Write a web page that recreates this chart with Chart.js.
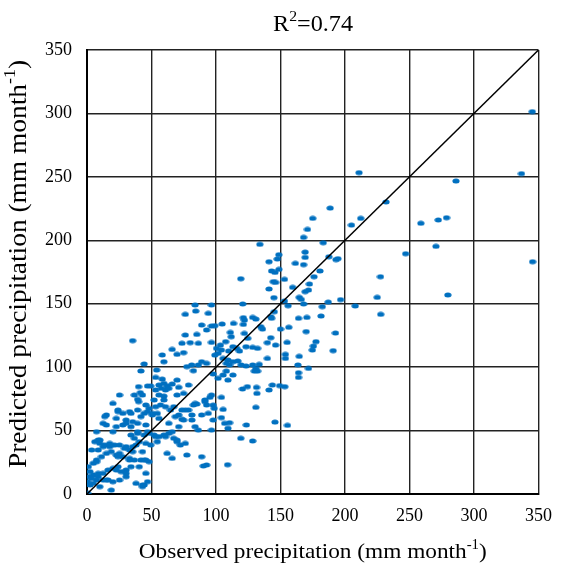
<!DOCTYPE html>
<html><head><meta charset="utf-8">
<script src="https://cdn.jsdelivr.net/npm/chart.js@4.4.1/dist/chart.umd.min.js"></script>
<style>html,body{margin:0;padding:0;background:#fff}</style>
</head><body>
<canvas id="c" width="563" height="570"></canvas>
<script>
// Observed (x) and predicted (y) monthly precipitation, mm month-1
const observed = [
40.0,46.9,49.4,55.8,59.6,62.1,66.0,71.1,78.7,57.6,60.9,63.4,41.3,43.0,53.2,55.8,59.6,69.8,74.9,25.2,36.7,39.2,40.0,85.1,82.5,91.4,92.7,96.5,95.3,78.7,76.2,81.3,71.1,68.5,73.6,83.8,97.8,96.5,86.3,45.6,48.1,53.2,57.0,60.9,64.7,54.5,50.7,46.9,44.3,41.8,32.9,27.8,24.1,15.0,13.8,22.7,30.3,35.4,39.2,34.1,27.8,22.7,20.1,12.5,15.0,7.4,6.1,8.7,9.9,13.8,17.6,21.4,25.2,29.0,32.9,35.4,38.0,40.5,36.7,39.2,44.3,48.1,52.0,55.8,59.6,63.4,67.2,69.8,72.3,54.5,45.6,43.0,49.4,41.8,45.6,48.1,36.7,32.9,27.8,22.7,18.8,15.0,11.2,7.4,4.8,3.6,8.7,1.0,2.3,4.8,8.7,12.5,16.3,20.1,24.0,26.5,30.3,34.1,30.3,25.2,20.1,16.3,12.5,7.4,3.6,1.0,0.5,2.3,9.9,18.8,43.0,44.3,46.9,62.1,66.0,77.4,90.2,92.7,0.5,
20.1,24.0,52.0,59.6,67.2,73.6,83.8,91.4,97.8,69.8,76.2,60.9,88.9,7.4,12.5,10.0,17.6,30.3,24.0,32.9,40.5,44.3,45.6,30.3,38.0,43.0,8.7,4.8,15.0,22.7,25.2,35.4,34.1,39.2,45.6,30.3,34.1,39.2,50.7,55.8,63.4,46.9,53.2,66.0,71.1,74.9,81.3,88.9,94.0,
83.8,96.5,76.2,84.3,94.0,88.9,96.5,92.7,76.2,85.1,73.6,80.0,66.0,69.8,74.9,86.3,96.5,58.3,59.6,88.9,92.7,86.3,82.5,77.4,81.2,97.8,35.4,44.3,41.8,54.0,58.3,69.8,53.2,
143.1,145.7,148.8,180.6,176.0,172.4,171.7,169.1,159.4,153.1,144.4,146.2,141.1,119.2,144.9,164.5,166.1,153.1,155.9,167.9,182.4,120.7,145.2,142.4,143.1,121.2,122.0,128.4,130.9,121.2,113.6,104.7,99.1,134.7,136.0,150.0,156.4,164.0,170.4,181.4,169.9,192.6,111.1,111.8,122.0,124.6,142.4,139.8,146.2,155.1,177.5,175.5,174.7,190.8,103.4,107.5,100.4,104.2,109.8,113.1,116.1,118.2,123.3,128.4,132.2,139.8,153.8,153.8,164.5,101.6,99.1,105.5,109.3,113.1,116.9,119.5,110.5,108.0,123.3,128.4,130.9,133.5,129.7,132.2,108.0,105.5,113.1,109.3,101.6,163.5,171.7,164.0,164.0,
124.3,120.5,131.4,131.7,143.7,149.3,153.3,141.1,104.2,130.9,105.5,98.6,104.2,106.7,110.5,109.3,123.5,145.7,155.4,119.2,128.4,109.0,
175.0,170.9,167.9,183.1,134.0,169.1,148.7,169.1,147.5,141.1,161.5,167.9,
345.2,210.9,336.8,286.0,188.5,231.8,212.2,205.0,278.7,272.3,258.8,270.5,247.0,187.5,193.0,194.5,345.4,227.5,225.0,279.7,196.6,187.0,207.9,227.7
];
const predicted = [
84.6,85.1,85.1,85.9,87.2,85.1,86.7,84.1,85.9,83.3,82.0,83.3,79.9,78.0,82.0,78.0,77.2,78.0,79.3,78.0,78.0,74.6,72.8,70.9,70.2,72.8,70.2,78.0,76.2,66.2,66.2,62.3,62.3,61.0,58.9,53.1,58.3,50.4,50.4,70.2,67.5,68.8,70.2,68.8,66.2,63.6,62.3,64.9,63.6,61.0,64.9,63.6,64.9,62.3,61.0,59.6,58.3,57.0,55.7,53.1,54.4,53.1,49.1,55.7,54.4,49.1,41.2,42.6,39.9,38.6,37.3,38.6,38.6,36.0,34.7,37.3,38.6,41.2,43.9,47.8,46.5,47.8,46.5,45.2,46.5,47.8,43.9,41.2,38.6,41.2,39.9,33.4,38.6,26.8,26.8,25.5,26.8,28.1,29.4,30.7,33.4,32.0,29.4,26.8,24.2,34.7,34.7,21.5,17.6,15.0,13.6,16.3,18.9,20.2,21.5,17.6,18.9,21.5,13.6,11.0,9.7,11.0,11.0,11.0,12.3,13.6,9.7,7.1,5.8,3.1,5.8,7.1,9.7,32.0,28.1,30.7,22.1,22.9,0.5,
71.4,66.2,74.1,74.1,68.8,66.2,71.4,74.1,70.1,42.5,39.9,45.2,29.4,25.4,37.3,42.5,39.9,37.3,29.4,26.8,21.5,26.8,16.3,16.3,8.4,7.1,16.3,8.4,11.0,18.9,32.0,33.4,46.5,49.1,54.4,55.7,63.6,66.2,63.6,59.6,55.7,49.1,45.2,49.1,53.1,58.3,58.3,62.3,63.6,
149.0,149.0,141.6,144.2,142.4,133.2,132.4,129.3,125.3,125.8,118.8,119.3,114.0,110.1,111.4,118.8,119.5,109.6,104.3,104.3,103.0,101.7,97.2,100.4,101.7,94.6,120.9,102.5,97.0,97.7,90.6,89.8,91.9,
175.8,174.7,177.1,175.8,171.3,165.5,160.8,159.5,162.9,169.2,167.4,166.8,161.6,169.7,154.8,155.0,153.4,152.1,148.4,149.8,147.7,149.8,143.7,139.8,138.5,139.0,137.1,139.2,137.9,133.7,134.5,134.0,132.7,131.9,130.0,130.0,131.4,138.5,139.2,140.3,128.0,126.9,127.4,124.0,126.6,122.7,123.2,119.3,117.4,119.5,120.1,116.6,113.5,113.0,117.4,120.1,114.8,113.5,112.7,116.1,114.8,112.7,116.1,115.6,114.8,106.9,110.1,106.9,108.5,110.9,109.5,106.9,105.6,104.3,104.8,101.7,101.7,103.0,100.9,101.7,99.0,102.2,96.9,96.9,96.9,93.8,93.8,89.8,91.2,101.7,99.0,95.6,91.9,
84.6,82.8,84.1,79.3,85.9,85.4,84.6,82.0,76.2,68.3,66.7,67.5,60.2,55.7,56.2,51.8,54.4,56.7,54.1,43.9,41.8,23.1,
217.3,208.6,202.3,198.1,196.8,190.7,188.6,186.5,185.2,183.1,181.8,180.8,
301.4,253.3,252.5,246.7,225.4,230.2,217.3,212.0,217.8,216.0,213.4,195.2,189.4,187.0,184.8,185.5,183.1,171.3,155.0,156.9,153.2,151.3,148.2,141.6
];
const oneToOne = [0, 350];
const axisTicks = [0, 50, 100, 150, 200, 250, 300, 350];
const titleParts = ['R', '2', '=0.74'];
const xTitleParts = ['Observed precipitation (mm month', '-1', ')'];
const yTitleParts = ['Predicted precipitation (mm month', '-1', ')'];

const SERIF = '"Liberation Serif", "Times New Roman", serif';

function makeDot() {
  const c = document.createElement('canvas');
  c.width = 8; c.height = 6;
  const g = c.getContext('2d');
  g.fillStyle = '#0070C0';
  g.beginPath();
  g.ellipse(4, 3, 3.6, 2.5, 0, 0, Math.PI * 2);
  g.fill();
  return c;
}

// draws "main + superscript + tail", fitted along the text direction to a target length
function drawSupText(ctx, parts, cx, baseline, size, targetLen) {
  const big = size + 'px ' + SERIF;
  const small = Math.round(size * 0.65) + 'px ' + SERIF;
  ctx.font = big; const w0 = ctx.measureText(parts[0]).width;
  ctx.font = small; const w1 = ctx.measureText(parts[1]).width;
  ctx.font = big; const w2 = ctx.measureText(parts[2]).width;
  const total = w0 + w1 + w2;
  const sx = targetLen ? targetLen / total : 1;
  ctx.save();
  ctx.translate(cx, baseline);
  ctx.scale(sx, 1);
  let x = -total / 2;
  ctx.textAlign = 'left'; ctx.textBaseline = 'alphabetic';
  ctx.font = big; ctx.fillText(parts[0], x, 0); x += w0;
  ctx.font = small; ctx.fillText(parts[1], x, -size * 0.42); x += w1;
  ctx.font = big; ctx.fillText(parts[2], x, 0);
  ctx.restore();
}

const textPlugin = {
  id: 'texts',
  afterDraw(chart) {
    const ctx = chart.ctx;
    const a = chart.chartArea;
    ctx.save();
    ctx.fillStyle = '#000';
    drawSupText(ctx, titleParts, 313, 31, 23, 80);
    drawSupText(ctx, xTitleParts, (a.left + a.right) / 2, 558, 22, 348);
    ctx.translate(26, 264);
    ctx.rotate(-Math.PI / 2);
    drawSupText(ctx, yTitleParts, 0, 0, 26, 408);
    ctx.restore();
  }
};

const points = observed.map((v, i) => ({ x: v, y: predicted[i] }));
const linePts = oneToOne.map(v => ({ x: v, y: v }));

const tickFont = { family: SERIF, size: 18 };
function setTicks(scale) { scale.ticks = axisTicks.map(v => ({ value: v })); }

new Chart(document.getElementById('c'), {
  type: 'scatter',
  data: {
    datasets: [
      { type: 'line', data: linePts, borderColor: '#000', borderWidth: 1.5, pointRadius: 0, fill: false },
      { data: points, pointStyle: makeDot(), pointRadius: 3, backgroundColor: '#0070C0', borderWidth: 0 }
    ]
  },
  options: {
    responsive: false,
    animation: false,
    layout: { padding: { top: 50, right: 18, left: 0, bottom: 0 } },
    plugins: { legend: { display: false }, tooltip: { enabled: false }, title: { display: false } },
    scales: {
      x: {
        type: 'linear', min: 0, max: 350,
        afterBuildTicks: setTicks,
        afterFit(s) { s.height = 76; },
        ticks: { font: tickFont, color: '#000', padding: 11, maxRotation: 0 },
        grid: { color: '#222', lineWidth: 1.4, drawTicks: false },
        border: { color: '#000', width: 2 }
      },
      y: {
        type: 'linear', min: 0, max: 350,
        afterBuildTicks: setTicks,
        afterFit(s) { s.width = 87; },
        ticks: { font: tickFont, color: '#000', padding: 15 },
        grid: { color: '#222', lineWidth: 1.4, drawTicks: false },
        border: { color: '#000', width: 2 }
      }
    }
  },
  plugins: [textPlugin]
});
</script>
</body></html>
